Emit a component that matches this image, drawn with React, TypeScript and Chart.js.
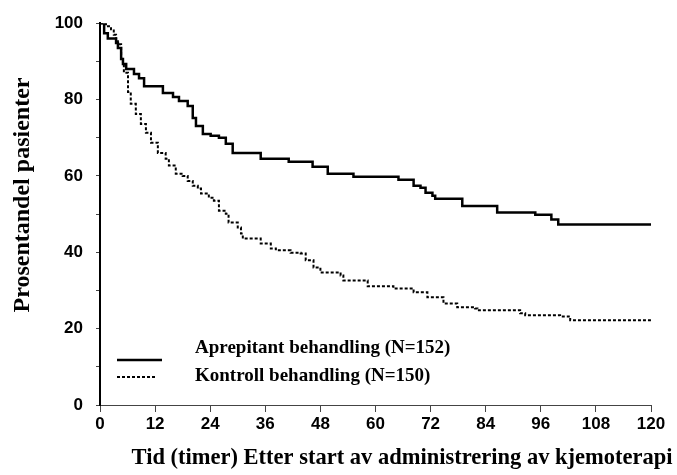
import React, { useEffect, useRef } from "react";
import { Chart, registerables } from "chart.js";

Chart.register(...registerables);

const aprepitantTime = [0, 0.9, 1.7, 3.5, 3.9, 4.6, 5.0, 5.7, 7.4, 8.5, 9.6, 13.7, 15.9, 17.2, 19.1, 20.2, 20.9, 22.4, 24.1, 25.9, 27.4, 28.9, 35.0, 41.1, 46.3, 49.6, 55.2, 65.0, 68.3, 69.8, 70.9, 72.4, 73.0, 78.9, 86.5, 94.8, 98.3, 99.8, 120];
const aprepitantPct = [100, 97.4, 96, 94.8, 93.5, 90.6, 89.3, 88, 86.7, 85.6, 83.5, 81.7, 80.7, 79.6, 78.3, 75.2, 73.1, 71, 70.5, 70, 68.4, 66, 64.5, 63.7, 62.4, 60.6, 59.8, 59, 57.4, 56.9, 55.6, 54.8, 54, 52.1, 50.4, 49.8, 48.6, 47.3, 47.3];

const kontrollTime = [0, 1.3, 2.4, 3.0, 3.5, 3.9, 4.6, 5.0, 5.2, 6.1, 6.7, 7.8, 8.9, 10.0, 11.1, 12.6, 14.3, 15.0, 16.5, 18.0, 19.1, 20.2, 21.3, 22.0, 23.7, 24.8, 25.9, 27.4, 28.0, 30.0, 30.7, 31.1, 35.0, 37.2, 38.3, 41.5, 43.7, 44.8, 46.5, 48.0, 52.4, 53.0, 58.3, 63.9, 68.3, 71.3, 74.8, 77.8, 81.7, 82.2, 91.5, 92.6, 100.2, 102.4, 120];
const kontrollPct = [100, 99.2, 98.4, 97, 95.8, 94.5, 90.6, 89.3, 87, 82, 78.9, 76.2, 73.6, 71.3, 68.7, 66, 64.5, 62.7, 60.6, 60, 58.7, 57.4, 56.7, 55.4, 54.3, 53.5, 50.9, 50.1, 47.8, 46.5, 44.9, 43.6, 42.3, 41, 40.5, 39.9, 39.7, 37.9, 36, 34.7, 33.9, 32.6, 31.1, 30.5, 29.5, 28.2, 26.6, 25.6, 25.3, 24.8, 24, 23.5, 23.2, 22.2, 22.2];

const seriesLabels = ["Aprepitant behandling (N=152)", "Kontroll behandling (N=150)"];
const xTitle = "Tid (timer) Etter start av administrering av kjemoterapi";
const yTitle = "Prosentandel pasienter";

const labelsPlugin = {
  id: "customLabels",
  afterDraw(chart: any) {
    const ctx = chart.ctx;
    ctx.save();
    ctx.fillStyle = "#000";
    ctx.strokeStyle = "#000";
    // legend samples
    ctx.lineWidth = 2.5;
    ctx.setLineDash([]);
    ctx.beginPath();
    ctx.moveTo(117, 360);
    ctx.lineTo(162, 360);
    ctx.stroke();
    ctx.lineWidth = 2;
    ctx.setLineDash([3, 2]);
    ctx.beginPath();
    ctx.moveTo(117, 377);
    ctx.lineTo(156, 377);
    ctx.stroke();
    ctx.setLineDash([]);
    ctx.font = "bold 19px 'Liberation Serif', 'Times New Roman', serif";
    ctx.textAlign = "left";
    ctx.textBaseline = "alphabetic";
    ctx.fillText(seriesLabels[0], 195, 353);
    ctx.fillText(seriesLabels[1], 195, 381);
    // x title
    ctx.font = "bold 22.5px 'Liberation Serif', 'Times New Roman', serif";
    ctx.textAlign = "center";
    ctx.textBaseline = "middle";
    ctx.fillText(xTitle, 402, 458);
    // y title
    ctx.translate(23, 195);
    ctx.rotate(-Math.PI / 2);
    ctx.font = "bold 24px 'Liberation Serif', 'Times New Roman', serif";
    ctx.fillText(yTitle, 0, 0);
    ctx.restore();
  },
};

export default function App() {
  const ref = useRef<HTMLCanvasElement>(null);
  useEffect(() => {
    document.body.style.margin = "0";
    const tickFont = { family: "'Liberation Sans', Arial, sans-serif", size: 17, weight: "bold" as const };
    const chart = new Chart(ref.current!, {
      type: "line",
      data: {
        datasets: [
          {
            label: seriesLabels[0],
            data: aprepitantTime.map((t, i) => ({ x: t, y: aprepitantPct[i] })),
            borderColor: "#000",
            borderWidth: 2.5,
            pointRadius: 0,
            stepped: "before",
            fill: false,
          },
          {
            label: seriesLabels[1],
            data: kontrollTime.map((t, i) => ({ x: t, y: kontrollPct[i] })),
            borderColor: "#000",
            borderWidth: 2,
            borderDash: [3, 2],
            pointRadius: 0,
            stepped: "before",
            fill: false,
          },
        ],
      },
      options: {
        responsive: false,
        animation: false,
        layout: { padding: { left: 0, right: 26, top: 22, bottom: 0 } },
        plugins: { legend: { display: false }, tooltip: { enabled: false } },
        scales: {
          x: {
            type: "linear",
            min: 0,
            max: 120,
            ticks: { stepSize: 12, color: "#000", font: tickFont, padding: 2, maxRotation: 0, autoSkip: false },
            grid: { drawOnChartArea: false, tickLength: 7, color: "#444" },
            border: { display: true, color: "#444", width: 1 },
            afterFit: (s: any) => { s.height = 70; },
          },
          y: {
            type: "linear",
            min: 0,
            max: 100,
            ticks: {
              stepSize: 10,
              color: "#000",
              font: tickFont,
              padding: 13,
              autoSkip: false,
              callback: (v: any) => (Number(v) % 20 === 0 ? String(v) : ""),
            },
            grid: { drawOnChartArea: false, tickLength: 4, color: "#444" },
            border: { display: true, color: "#000", width: 2 },
            afterFit: (s: any) => { s.width = 100; },
          },
        },
      },
      plugins: [labelsPlugin],
    });
    return () => chart.destroy();
  }, []);
  return <canvas ref={ref} width={677} height={475} />;
}
